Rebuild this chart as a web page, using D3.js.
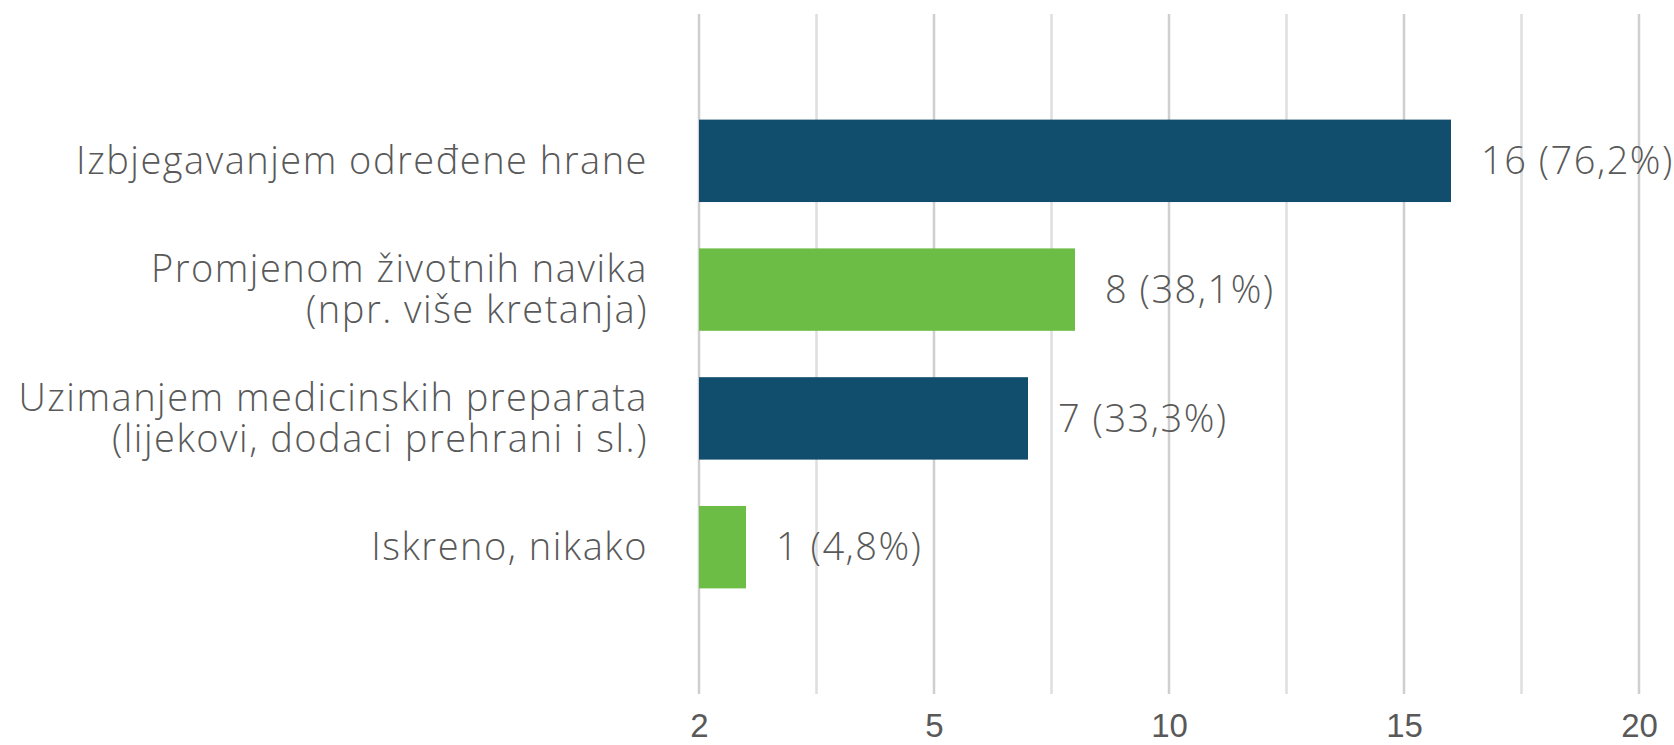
<!DOCTYPE html>
<html>
<head>
<meta charset="utf-8">
<script src="https://cdn.jsdelivr.net/npm/d3@7"></script>
<style>
    html, body { margin: 0; padding: 0; background: #fff; }
    svg { display: block; }
    .cat-label, .value-label { font-family: 'Open Sans', Lato, sans-serif; font-weight: 300; fill: #595959; letter-spacing: 1.5px; }
    .axis-x text { font-family: 'Liberation Sans', Arial, sans-serif; fill: #595959; }
</style>
</head>
<body>
<div id="chart"></div>
<script>
'use strict';

// Chart data
const categories = [
    'Izbjegavanjem određene hrane',
    'Promjenom životnih navika\n(npr. više kretanja)',
    'Uzimanjem medicinskih preparata\n(lijekovi, dodaci prehrani i sl.)',
    'Iskreno, nikako'
];
const counts = [16, 8, 7, 1];
const shares = ['76,2%', '38,1%', '33,3%', '4,8%'];

// Axis ticks as shown on the chart
const gridTicks = [0, 2.5, 5, 7.5, 10, 12.5, 15, 17.5, 20];
const labelTicks = [0, 5, 10, 15, 20];
const tickLabels = ['2', '5', '10', '15', '20'];

const palette = ['#114e6d', '#6cbd45'];

const width = 1674, height = 745;
const margins = { left: 699, right: 35, top: 14, bottom: 51 };
const fontSize = 38;

const rows = categories.map((c, i) => ({
    key: c,
    lines: c.split('\n'),
    count: counts[i],
    share: shares[i]
}));

const svg = d3.select('#chart').append('svg')
    .attr('width', width)
    .attr('height', height);

const scaleX = d3.scaleLinear()
    .domain([0, 20])
    .range([margins.left, width - margins.right]);

const scaleY = d3.scaleBand()
    .domain(categories)
    .range([margins.top, height - margins.bottom])
    .paddingInner(0.36)
    .paddingOuter(0.82);

// Gridlines
svg.append('g').classed('grid', true)
    .selectAll('line')
    .data(gridTicks)
    .join('line')
    .attr('x1', d => scaleX(d))
    .attr('x2', d => scaleX(d))
    .attr('y1', margins.top)
    .attr('y2', height - margins.bottom)
    .attr('stroke', d => labelTicks.includes(d) ? '#cfcfcf' : '#dedede')
    .attr('stroke-width', 2.5);

// Bars
svg.append('g').selectAll('rect.bar')
    .data(rows)
    .join('rect')
    .classed('bar', true)
    .attr('x', scaleX(0))
    .attr('y', d => scaleY(d.key))
    .attr('width', d => scaleX(d.count) - scaleX(0))
    .attr('height', scaleY.bandwidth())
    .attr('fill', (d, i) => palette[i % 2]);

// Value labels
svg.append('g').selectAll('text.value-label')
    .data(rows)
    .join('text')
    .classed('value-label', true)
    .attr('x', d => scaleX(d.count) + 30)
    .attr('y', d => scaleY(d.key) + scaleY.bandwidth() / 2)
    .attr('dy', '0.35em')
    .style('font-size', `${fontSize}px`)
    .text(d => `${d.count} (${d.share})`);

// Category labels
const lineGap = 41;
const catLabels = svg.append('g').selectAll('text.cat-label')
    .data(rows)
    .join('text')
    .classed('cat-label', true)
    .attr('text-anchor', 'end')
    .style('font-size', `${fontSize}px`)
    .attr('y', d => scaleY(d.key) + scaleY.bandwidth() / 2);

catLabels.selectAll('tspan')
    .data(d => d.lines.map((l, i) => ({ text: l, i, n: d.lines.length })))
    .join('tspan')
    .attr('x', margins.left - 51)
    .attr('dy', d => d.i === 0 ? `${0.35 * fontSize - (d.n - 1) * lineGap / 2}px` : `${lineGap}px`)
    .text(d => d.text);

// X axis
const axisGenX = d3.axisBottom(scaleX)
    .tickValues(labelTicks)
    .tickFormat((d, i) => tickLabels[i])
    .tickSize(0)
    .tickPadding(0);

const axisX = svg.append('g')
    .classed('axis-x', true)
    .attr('transform', `translate(0, ${height - 27})`)
    .call(axisGenX);

axisX.select('.domain').remove();
axisX.selectAll('text')
    .attr('dy', null)
    .attr('y', 19)
    .style('font-size', '33px');
</script>
</body>
</html>
